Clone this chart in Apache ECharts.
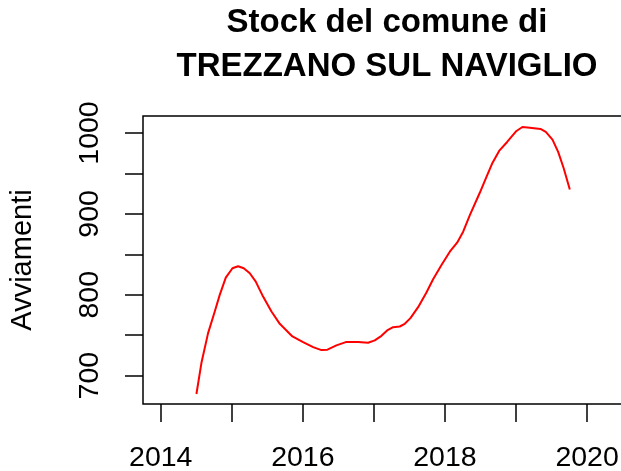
<!DOCTYPE html>
<html>
<head>
<meta charset="utf-8">
<script src="https://cdn.jsdelivr.net/npm/echarts@6/dist/echarts.min.js"></script>
<style>
html,body{margin:0;padding:0;background:#fff;}
#c{width:621px;height:471px;}
</style>
</head>
<body>
<div id="c"></div>
<script>
const titleLines = ["Stock del comune di", "TREZZANO SUL NAVIGLIO"];
const yName = "Avviamenti";
const xTicks = [2014, 2015, 2016, 2017, 2018, 2019, 2020];
const xLabels = [2014, 2016, 2018, 2020];
const yTicks = [700, 750, 800, 850, 900, 950, 1000];
const yLabels = [700, 800, 900, 1000];
const years = [2014.502, 2014.572, 2014.666, 2014.76, 2014.83, 2014.915, 2015.009, 2015.088, 2015.168, 2015.253, 2015.337, 2015.44, 2015.558, 2015.675, 2015.853, 2016.003, 2016.144, 2016.261, 2016.346, 2016.472, 2016.604, 2016.777, 2016.918, 2017.012, 2017.106, 2017.186, 2017.27, 2017.364, 2017.434, 2017.514, 2017.622, 2017.739, 2017.833, 2017.951, 2018.068, 2018.171, 2018.256, 2018.35, 2018.49, 2018.584, 2018.668, 2018.762, 2018.875, 2019.006, 2019.09, 2019.194, 2019.344, 2019.419, 2019.513, 2019.593, 2019.672, 2019.757];
const stock = [677.4, 715.6, 752.6, 779.3, 799.9, 821.2, 832.8, 835.2, 832.8, 826.6, 816.3, 797.8, 779.3, 764.1, 748.5, 741.5, 735.3, 731.6, 732.1, 737.4, 741.5, 741.5, 740.7, 743.6, 749.3, 755.9, 760.0, 760.8, 764.1, 771.1, 784.7, 802.8, 819.2, 836.9, 853.3, 864.4, 878.0, 898.5, 926.1, 945.8, 963.0, 977.8, 988.9, 1002.5, 1007.4, 1006.6, 1005.0, 1001.3, 991.8, 976.6, 956.1, 930.2];

const FONT = "'Liberation Sans', Arial, Helvetica, sans-serif";
const chart = echarts.init(document.getElementById('c'), null, {renderer: 'canvas'});
chart.setOption({
  animation: false,
  backgroundColor: '#fff',
  title: {
    text: titleLines.join('\n'),
    left: 387, top: 1, textAlign: 'center', padding: 0,
    textStyle: {fontFamily: FONT, fontSize: 33, fontWeight: 'bold', color: '#000', lineHeight: 44}
  },
  grid: {
    left: 143, top: 116, right: -8, bottom: 67,
    show: true, borderColor: '#000', borderWidth: 1.5, backgroundColor: 'transparent',
    containLabel: false, outerBoundsMode: 'none'
  },
  xAxis: {
    type: 'value', min: 2013.75, max: 2020.59,
    axisLine: {show: false},
    splitLine: {show: false},
    axisTick: {show: true, length: 18, customValues: xTicks, lineStyle: {color: '#000', width: 1.5}},
    axisLabel: {customValues: xLabels, fontFamily: FONT, fontSize: 28.5, color: '#000', margin: 40,
      formatter: v => String(v)}
  },
  yAxis: {
    type: 'value', min: 665, max: 1021,
    name: yName, nameLocation: 'middle', nameRotate: 90, nameGap: 106,
    nameTextStyle: {fontFamily: FONT, fontSize: 29, color: '#000'},
    axisLine: {show: false},
    splitLine: {show: false},
    axisTick: {show: true, length: 18, customValues: yTicks, lineStyle: {color: '#000', width: 1.5}},
    axisLabel: {customValues: yLabels, rotate: 90, fontFamily: FONT, fontSize: 28.5, color: '#000', margin: 38,
      formatter: v => String(v)}
  },
  series: [{
    type: 'line',
    data: years.map((y, i) => [y, stock[i]]),
    showSymbol: false, smooth: false,
    lineStyle: {color: '#ff0000', width: 2},
    clip: true
  }]
});
</script>
</body>
</html>
